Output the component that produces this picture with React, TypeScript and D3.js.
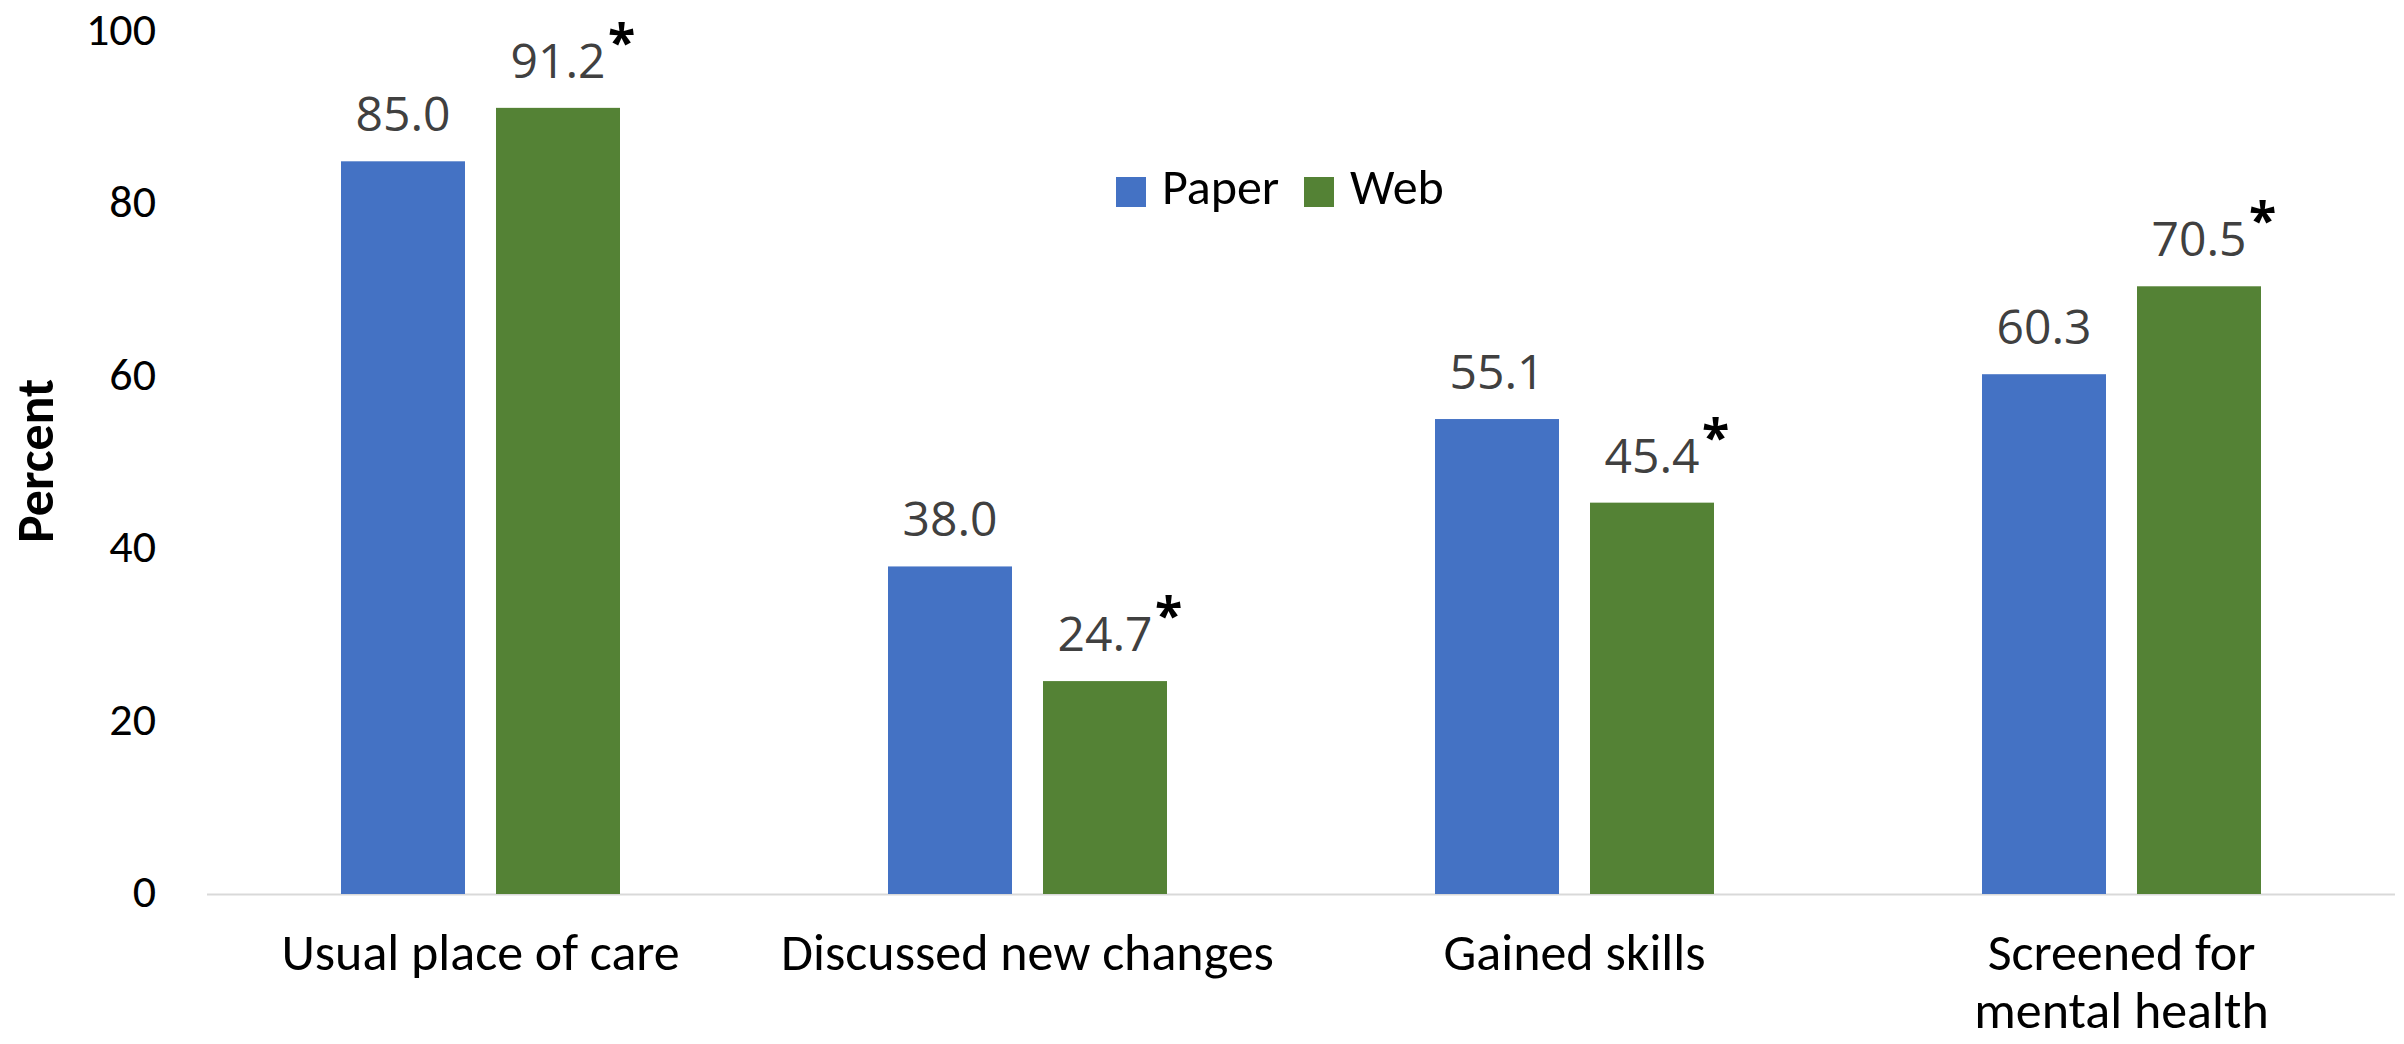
import React from "react";
import * as d3 from "d3";

const categories: string[][] = [
  ["Usual place of care"],
  ["Discussed new changes"],
  ["Gained skills"],
  ["Screened for", "mental health"],
];
const seriesNames = ["Paper", "Web"];
const paperValues = [85.0, 38.0, 55.1, 60.3];
const webValues = [91.2, 24.7, 45.4, 70.5];
const webSignificant = [true, true, true, true];
const yTicks = [0, 20, 40, 60, 80, 100];
const colors = ["#4472C4", "#548235"];

const W = 2404;
const H = 1044;
const plotLeft = 207;
const plotRight = 2395;
const yTop = 32;
const yZero = 894;

const calibri = "Carlito, Lato, 'Liberation Sans', sans-serif";
const segoe = "'Open Sans', 'Noto Sans', sans-serif";

export default function App() {
  const x0 = d3
    .scaleBand<number>()
    .domain(d3.range(categories.length))
    .range([plotLeft, plotRight])
    .paddingInner(0)
    .paddingOuter(0);
  const y = d3.scaleLinear().domain([0, 100]).range([yZero, yTop]);
  const bw = 124;
  const gap = 31;
  const series = [paperValues, webValues];

  return (
    <svg
      width={W}
      height={H}
      style={{ position: "absolute", left: 0, top: 0, background: "#fff" }}
    >
      {yTicks.map((t) => (
        <text
          key={t}
          x={156}
          y={y(t) + 13}
          textAnchor="end"
          fontFamily={calibri}
          fontSize={46}
          fill="#000"
        >
          {t}
        </text>
      ))}
      <text
        transform={`translate(${35},${461}) rotate(-90)`}
        textAnchor="middle"
        dy="0.35em"
        fontFamily={calibri}
        fontWeight="bold"
        fontSize={52}
        fill="#000"
      >
        Percent
      </text>
      <line
        x1={plotLeft}
        x2={plotRight}
        y1={yZero + 0.5}
        y2={yZero + 0.5}
        stroke="#D9D9D9"
        strokeWidth={2}
      />
      {categories.map((cat, i) => {
        const cx = (x0(i) as number) + x0.bandwidth() / 2;
        return (
          <g key={i}>
            {series.map((vals, s) => {
              const bx = s === 0 ? cx - gap / 2 - bw : cx + gap / 2;
              const v = vals[i];
              const ty = y(v) - 30;
              const label = v.toFixed(1);
              return (
                <g key={s}>
                  <rect
                    x={bx}
                    y={y(v)}
                    width={bw}
                    height={yZero - y(v)}
                    fill={colors[s]}
                  />
                  <text
                    x={bx + bw / 2}
                    y={ty}
                    textAnchor="middle"
                    fontFamily={segoe}
                    fontSize={48}
                    fill="#404040"
                  >
                    {label}
                  </text>
                  {s === 1 && webSignificant[i] && (
                    <text
                      x={bx + bw / 2 + 50}
                      y={ty - 18}
                      fontFamily={segoe}
                      fontSize={50}
                      fontWeight="bold"
                      fill="#000"
                    >
                      *
                    </text>
                  )}
                </g>
              );
            })}
            {cat.map((line, li) => (
              <text
                key={li}
                x={cx}
                y={970 + li * 58}
                textAnchor="middle"
                fontFamily={calibri}
                fontSize={52}
                fill="#000"
              >
                {line}
              </text>
            ))}
          </g>
        );
      })}
      {seriesNames.map((n, s) => {
        const lx = s === 0 ? 1116 : 1304;
        return (
          <g key={n}>
            <rect x={lx} y={177} width={30} height={30} fill={colors[s]} />
            <text
              x={lx + 46}
              y={204}
              fontFamily={calibri}
              fontSize={50}
              fill="#000"
            >
              {n}
            </text>
          </g>
        );
      })}
    </svg>
  );
}
